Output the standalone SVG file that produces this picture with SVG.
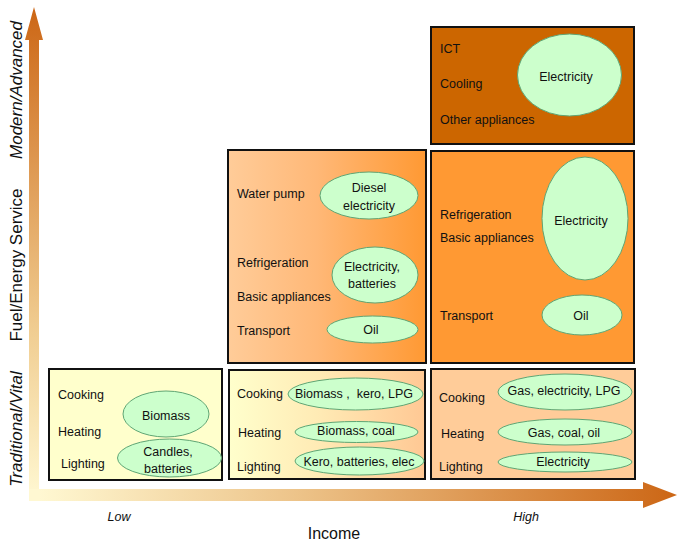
<svg xmlns="http://www.w3.org/2000/svg" width="677" height="541" viewBox="0 0 677 541">
<defs>
<linearGradient id="gv" x1="0" y1="1" x2="0" y2="0">
<stop offset="0" stop-color="#FFF8D2"/>
<stop offset="0.35" stop-color="#F0CC90"/>
<stop offset="1" stop-color="#CC6615"/>
</linearGradient>
<linearGradient id="gh" x1="0" y1="0" x2="1" y2="0">
<stop offset="0" stop-color="#FFF8D2"/>
<stop offset="0.4" stop-color="#EDC48A"/>
<stop offset="1" stop-color="#CC6615"/>
</linearGradient>
<linearGradient id="gmf" x1="0" y1="0" x2="1" y2="0">
<stop offset="0" stop-color="#FFCC99"/>
<stop offset="0.45" stop-color="#FFB877"/>
<stop offset="1" stop-color="#FF9933"/>
</linearGradient>
<linearGradient id="gmt" x1="0" y1="0" x2="1" y2="0">
<stop offset="0" stop-color="#FFFFCC"/>
<stop offset="0.45" stop-color="#FFEBB5"/>
<stop offset="1" stop-color="#FFC894"/>
</linearGradient>
<style>
text{font-family:"Liberation Sans",Arial,sans-serif;font-size:12.5px;fill:#111}
.box{stroke:#111;stroke-width:2}
.ell{fill:#CCFFCC;stroke:#5FA574;stroke-width:1}
.c{text-anchor:middle}
.ax{font-size:17px;text-anchor:middle}
.it{font-style:italic}
</style>
</defs>
<g id="axes">
<path d="M29,40 H25 L34,7 L43,40 H39 V499 H29 Z" fill="url(#gv)"/>
<path d="M39,489 H643 V482 L677,495 L643,508 V501 H39 Z" fill="url(#gh)"/>
<rect x="29" y="489" width="10" height="12" fill="#FFF8D2"/>
<text class="ax it" transform="translate(22,90) rotate(-90)">Modern/Advanced</text>
<text class="ax" transform="translate(22,265) rotate(-90)">Fuel/Energy Service</text>
<text class="ax it" transform="translate(22,429) rotate(-90)">Traditional/Vital</text>
<text class="c it" x="119" y="521">Low</text>
<text class="c it" x="526" y="521">High</text>
<text class="c" x="334" y="539" style="font-size:16px">Income</text>
</g>
<g id="low-traditional">
<rect class="box" x="49" y="369" width="173" height="111" fill="#FFFFCC" stroke-width="2.5"/>
<text x="58" y="399">Cooking</text>
<text x="58" y="436">Heating</text>
<text x="61" y="468">Lighting</text>
<ellipse class="ell" cx="166" cy="414" rx="43" ry="23"/>
<text class="c" x="166" y="420">Biomass</text>
<ellipse class="ell" cx="169.5" cy="458" rx="52" ry="19"/>
<text class="c" x="168" y="456">Candles,</text>
<text class="c" x="168" y="473">batteries</text>
</g>
<g id="mid-traditional">
<rect class="box" x="229" y="370" width="196" height="109" fill="url(#gmt)" stroke-width="1.5"/>
<text x="237" y="398">Cooking</text>
<text x="238" y="437">Heating</text>
<text x="237" y="471">Lighting</text>
<ellipse class="ell" cx="355.5" cy="394" rx="67.5" ry="16"/>
<text class="c" x="354" y="398">Biomass ,&#160; kero, LPG</text>
<ellipse class="ell" cx="356.5" cy="432" rx="61.5" ry="10.5"/>
<text class="c" x="356" y="435">Biomass, coal</text>
<ellipse class="ell" cx="359.5" cy="461" rx="64.5" ry="14"/>
<text class="c" x="359" y="466">Kero, batteries, elec</text>
</g>
<g id="high-traditional">
<rect class="box" x="431" y="369" width="204" height="110" fill="#FFCC99"/>
<text x="439" y="402">Cooking</text>
<text x="441" y="438">Heating</text>
<text x="439" y="471">Lighting</text>
<ellipse class="ell" cx="565" cy="392" rx="67" ry="18"/>
<text class="c" x="564" y="395">Gas, electricity, LPG</text>
<ellipse class="ell" cx="565" cy="432" rx="67" ry="13"/>
<text class="c" x="564" y="437">Gas, coal, oil</text>
<ellipse class="ell" cx="565" cy="462" rx="67" ry="10"/>
<text class="c" x="563" y="466">Electricity</text>
</g>
<g id="mid-fuel">
<rect class="box" x="228" y="150" width="198" height="213" fill="url(#gmf)" stroke-width="1.5"/>
<text x="237" y="198">Water pump</text>
<text x="237" y="267">Refrigeration</text>
<text x="237" y="301">Basic appliances</text>
<text x="237" y="335">Transport</text>
<ellipse class="ell" cx="369" cy="195.5" rx="49" ry="23.5"/>
<text class="c" x="369" y="192">Diesel</text>
<text class="c" x="369" y="210">electricity</text>
<ellipse class="ell" cx="375" cy="275" rx="43" ry="28"/>
<text class="c" x="372" y="271">Electricity,</text>
<text class="c" x="372" y="288">batteries</text>
<ellipse class="ell" cx="372.5" cy="329.5" rx="45.5" ry="13.5"/>
<text class="c" x="371" y="334">Oil</text>
</g>
<g id="high-fuel">
<rect class="box" x="431" y="151" width="203" height="212" fill="#FF9933"/>
<text x="440" y="219">Refrigeration</text>
<text x="440" y="242">Basic appliances</text>
<text x="440" y="320">Transport</text>
<ellipse class="ell" cx="585" cy="218.5" rx="43" ry="61.5"/>
<text class="c" x="581" y="225">Electricity</text>
<ellipse class="ell" cx="582" cy="315" rx="40" ry="20"/>
<text class="c" x="581" y="320">Oil</text>
</g>
<g id="high-modern">
<rect class="box" x="431" y="27" width="203" height="117" fill="#CC6600"/>
<text x="440" y="53">ICT</text>
<text x="440" y="88">Cooling</text>
<text x="440" y="124">Other appliances</text>
<ellipse class="ell" cx="569.5" cy="75" rx="52" ry="41"/>
<text class="c" x="566" y="81">Electricity</text>
</g>
<g id="connectors"/>
</svg>
